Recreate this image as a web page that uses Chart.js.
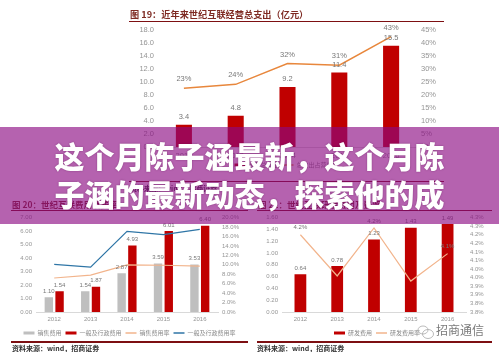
<!DOCTYPE html>
<html lang="zh">
<head>
<meta charset="utf-8">
<script src="https://cdn.jsdelivr.net/npm/chart.js@4"></script>
<style>
  html, body { margin: 0; padding: 0; background: #fff; }
  body { position: relative; width: 499px; height: 352px; overflow: hidden; font-family: "Noto Sans CJK SC", sans-serif; }
  #page { position: absolute; left: 0; top: 0; width: 499px; height: 352px; filter: blur(0.5px); }
  .box { position: absolute; }
  .title { position: absolute; font-weight: 700; color: #7e2a22; white-space: pre; line-height: 12px; }
  .rule { position: absolute; background: #7d0f12; }
  .source { position: absolute; font-size: 7px; font-weight: 700; color: #333; line-height: 10px; white-space: pre; }
  #mark { position: absolute; left: 436px; top: 322px; font-size: 12px; line-height: 16px; color: #7a7a7a; white-space: pre; }
  #band { position: absolute; left: 0; top: 127px; width: 499px; height: 97px; background: rgba(140, 10, 130, 0.64); }
  .head { position: absolute; left: 0; width: 499px; text-align: center; color: #fff; font-size: 30px; font-weight: 900; line-height: 38px; white-space: pre; text-shadow: 0 0 2px rgba(70, 0, 60, 0.45); }
</style>
</head>
<body>
<div id="page">
  <div class="title" style="left:130px;top:8px;font-size:9.2px">图 19：近年来世纪互联经营总支出（亿元）</div>
  <div class="rule" style="left:129px;top:21px;width:315px;height:1px"></div>
  <div class="box" style="left:129px;top:21px;width:315px;height:164px"><canvas id="spend"></canvas></div>
  <div class="rule" style="left:129px;top:181px;width:315px;height:1px"></div>
  <div class="source" style="left:130px;top:183px">资料来源：wind，招商证券</div>

  <div class="title" style="left:12px;top:198px;font-size:8.5px">图 20：世纪互联费用及费率</div>
  <div class="title" style="left:258px;top:198px;font-size:8.5px">图 21：世纪互联研发费用及费率</div>
  <div class="rule" style="left:11px;top:210px;width:237px;height:1px"></div>
  <div class="rule" style="left:257px;top:210px;width:235px;height:1px"></div>

  <div class="box" style="left:11px;top:210px;width:237px;height:136px"><canvas id="expense"></canvas></div>
  <div class="box" style="left:262px;top:210px;width:230px;height:136px"><canvas id="research"></canvas></div>

  <div class="rule" style="left:11px;top:341px;width:237px;height:2px"></div>
  <div class="rule" style="left:257px;top:341px;width:235px;height:2px"></div>
  <div class="source" style="left:12px;top:343px">资料来源：wind，招商证券</div>
  <div class="source" style="left:257px;top:343px">资料来源：wind，招商证券</div>

  <svg style="position:absolute;left:417px;top:325px" width="18" height="15" viewBox="0 0 18 15" fill="none" stroke="#a9a9a9" stroke-width="0.8">
    <ellipse cx="6" cy="5" rx="5" ry="4"/>
    <ellipse cx="11" cy="9" rx="5.5" ry="4.5"/>
  </svg>
  <div id="mark">招商通信</div>
</div>

<div id="band"></div>
<div class="head" style="top:136px">这个月陈子涵最新，这个月陈</div>
<div class="head" style="top:174px">子涵的最新动态，探索他的成</div>

<script>
const years = ['2012', '2013', '2014', '2015', '2016'];

// fig 19
const spendBars = [3.4, 4.8, 9.2, 11.4, 15.5];
const spendBarLabels = ['3.4', '4.8', '9.2', '11.4', '15.5'];
const spendRate = [22.5, 24, 32, 31.3, 42.3];
const spendRateLabels = ['23%', '24%', '32%', '31%', '43%'];
const spendLeftTicks = ['0.0', '2.0', '4.0', '6.0', '8.0', '10.0', '12.0', '14.0', '16.0', '18.0'];
const spendRightTicks = ['0%', '5%', '10%', '15%', '20%', '25%', '30%', '35%', '40%', '45%'];

// fig 20
const sellCost = [1.10, 1.54, 2.87, 3.59, 3.53];
const adminCost = [1.54, 1.87, 4.93, 6.01, 6.40];
const sellRate = [7.2, 7.8, 10.0, 9.9, 9.7];
const adminRate = [10.1, 9.5, 17.1, 16.4, 17.5];
const sellLabels = ['1.10', '1.54', '2.87', '3.59', '3.53'];
const adminLabels = ['1.54', '1.87', '4.93', '6.01', '6.40'];
const expenseLeftTicks = ['0.00', '1.00', '2.00', '3.00', '4.00', '5.00', '6.00', '7.00'];
const expenseRightTicks = ['0.0%', '2.0%', '4.0%', '6.0%', '8.0%', '10.0%', '12.0%', '14.0%', '16.0%', '18.0%', '20.0%'];

// fig 21
const researchCost = [0.64, 0.78, 1.23, 1.43, 1.49];
const researchLabels = ['0.64', '0.78', '1.23', '1.43', '1.49'];
const researchRate = [4.2, 3.96, 4.24, 3.93, 4.09];
const researchRateLabels = ['4.2%', '', '4.2%', '', '4.1%'];
const researchLeftTicks = ['0.00', '0.20', '0.40', '0.60', '0.80', '1.00', '1.20', '1.40', '1.60'];
const researchRightTicks = ['3.8%', '3.8%', '3.9%', '3.9%', '4.0%', '4.0%', '4.1%', '4.1%', '4.2%', '4.2%', '4.3%', '4.3%'];

const red = '#c00000';
const grey = '#bfbfbf';
const orange = '#e8873c';
const peach = '#f2b48c';
const blue = '#2e75a6';
const tickGrey = '#959595';
const fontFamily = '"Liberation Sans", "Noto Sans CJK SC", sans-serif';

// chart.js has no data labels of its own
const valueLabels = {
  id: 'valueLabels',
  afterDatasetsDraw(chart, args, opts) {
    const ctx = chart.ctx;
    ctx.save();
    ctx.textAlign = 'center';
    ctx.textBaseline = 'middle';
    ctx.font = opts.size + 'px ' + fontFamily;
    chart.data.datasets.forEach((ds, i) => {
      if (!ds.pointLabels) return;
      ctx.fillStyle = ds.labelColor || '#777';
      chart.getDatasetMeta(i).data.forEach((el, n) => {
        ctx.fillText(ds.pointLabels[n], el.x, el.y - (ds.labelGap || 7));
      });
    });
    ctx.restore();
  }
};

function fixedWidth(w) {
  return function(scale) { scale.width = w; };
}

function legendItems(chart) {
  const items = Chart.defaults.plugins.legend.labels.generateLabels(chart);
  items.sort((a, b) => a.datasetIndex - b.datasetIndex);
  items.forEach(item => {
    const ds = chart.data.datasets[item.datasetIndex];
    item.pointStyle = ds.type === 'line' ? 'line' : 'rect';
    item.lineWidth = ds.type === 'line' ? 1.5 : 0;
    item.strokeStyle = ds.borderColor;
  });
  return items;
}

function makeChart(id, datasets, conf) {
  return new Chart(document.getElementById(id), {
    type: 'bar',
    data: { labels: years, datasets: datasets },
    options: {
      responsive: true,
      maintainAspectRatio: false,
      animation: false,
      layout: { padding: conf.padding },
      elements: { point: { radius: 0 } },
      scales: {
        x: {
          grid: { display: false, drawTicks: false },
          border: { color: '#d9d9d9' },
          ticks: { color: tickGrey, font: { family: fontFamily, size: conf.size }, padding: 4, maxRotation: 0 },
          afterFit: function(scale) { scale.height = conf.xHeight; }
        },
        y: {
          position: 'left',
          min: conf.leftMin, max: conf.leftMax,
          grid: { display: false, drawTicks: false },
          border: { display: false },
          ticks: {
            stepSize: conf.leftStep, autoSkip: false, padding: 4, color: tickGrey,
            font: { family: fontFamily, size: conf.size },
            callback: (v, i) => conf.leftTicks[i]
          },
          afterFit: fixedWidth(conf.leftWidth)
        },
        y1: {
          position: 'right',
          min: conf.rightMin, max: conf.rightMax,
          grid: { display: false, drawTicks: false },
          border: { display: false },
          ticks: {
            stepSize: conf.rightStep, autoSkip: false, padding: 4, color: tickGrey,
            font: { family: fontFamily, size: conf.size },
            callback: (v, i) => conf.rightTicks[i]
          },
          afterFit: fixedWidth(conf.rightWidth)
        }
      },
      plugins: {
        tooltip: false,
        title: false,
        valueLabels: { size: conf.labelSize },
        legend: {
          position: 'bottom',
          labels: {
            color: '#8a8a8a',
            font: { family: '"Noto Sans CJK SC", sans-serif', size: 6 },
            usePointStyle: true,
            pointStyleWidth: 11,
            boxHeight: 3,
            padding: 4,
            generateLabels: legendItems
          }
        }
      }
    },
    plugins: [valueLabels]
  });
}

makeChart('spend', [
  { type: 'bar', label: '经营总支出', data: spendBars, backgroundColor: red, borderColor: red, yAxisID: 'y', barPercentage: 0.31, categoryPercentage: 1, order: 2, pointLabels: spendBarLabels, labelGap: 8 },
  { type: 'line', label: '总支出占营收比', data: spendRate, borderColor: orange, backgroundColor: orange, borderWidth: 1.5, yAxisID: 'y1', order: 1, pointLabels: spendRateLabels, labelGap: 9 }
], {
  padding: { top: 1, bottom: 7 }, size: 7.5, labelSize: 7.5, xHeight: 11,
  leftMin: 0, leftMax: 18, leftStep: 2, leftTicks: spendLeftTicks, leftWidth: 29,
  rightMin: 0, rightMax: 45, rightStep: 5, rightTicks: spendRightTicks, rightWidth: 27
});

makeChart('expense', [
  { type: 'bar', label: '销售费用', data: sellCost, backgroundColor: grey, borderColor: grey, yAxisID: 'y', barPercentage: 0.78, categoryPercentage: 0.59, order: 2, pointLabels: sellLabels, labelGap: 6 },
  { type: 'bar', label: '一般及行政费用', data: adminCost, backgroundColor: red, borderColor: red, yAxisID: 'y', barPercentage: 0.78, categoryPercentage: 0.59, order: 2, pointLabels: adminLabels, labelGap: 6 },
  { type: 'line', label: '销售费用率', data: sellRate, borderColor: peach, backgroundColor: peach, borderWidth: 1.2, yAxisID: 'y1', order: 1 },
  { type: 'line', label: '一般及行政费用率', data: adminRate, borderColor: blue, backgroundColor: blue, borderWidth: 1.2, yAxisID: 'y1', order: 1 }
], {
  padding: { top: 1, bottom: 0 }, size: 6, labelSize: 6, xHeight: 14,
  leftMin: 0, leftMax: 7, leftStep: 1, leftTicks: expenseLeftTicks, leftWidth: 25,
  rightMin: 0, rightMax: 20, rightStep: 2, rightTicks: expenseRightTicks, rightWidth: 30
});

makeChart('research', [
  { type: 'bar', label: '研发费用', data: researchCost, backgroundColor: red, borderColor: red, yAxisID: 'y', barPercentage: 0.32, categoryPercentage: 1, order: 2, pointLabels: researchLabels, labelGap: 6 },
  { type: 'line', label: '研发费用率', data: researchRate, borderColor: peach, backgroundColor: peach, borderWidth: 1.2, yAxisID: 'y1', order: 1, pointLabels: researchRateLabels, labelGap: 7 }
], {
  padding: { top: 1, bottom: 0 }, size: 6, labelSize: 6, xHeight: 14,
  leftMin: 0, leftMax: 1.6, leftStep: 0.2, leftTicks: researchLeftTicks, leftWidth: 20,
  rightMin: 3.75, rightMax: 4.3, rightStep: 0.05, rightTicks: researchRightTicks, rightWidth: 26
});
</script>
</body>
</html>
